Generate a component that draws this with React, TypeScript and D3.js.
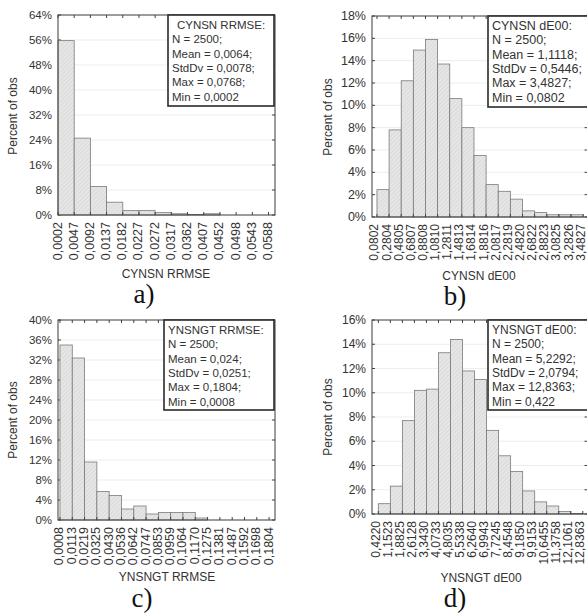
import React from "react";
import * as d3 from "d3";

const A_LABELS = ["0,0002","0,0047","0,0092","0,0137","0,0182","0,0227","0,0272","0,0317","0,0362","0,0407","0,0452","0,0498","0,0543","0,0588"];
const A_VALUES = [55.8, 24.6, 9.1, 4.1, 1.4, 1.4, 0.75, 0.4, 0.2, 0.4, 0, 0, 0];
const A_LEGEND = ["CYNSN RRMSE:", "N = 2500;", "Mean = 0,0064;", "StdDv = 0,0078;", "Max = 0,0768;", "Min = 0,0002"];

const B_LABELS = ["0,0802","0,2804","0,4805","0,6807","0,8808","1,0810","1,2811","1,4813","1,6814","1,8816","2,0817","2,2819","2,4820","2,6822","2,8823","3,0825","3,2826","3,4827"];
const B_VALUES = [2.45, 7.8, 12.2, 14.95, 15.9, 13.7, 10.6, 8.0, 5.5, 2.9, 2.3, 1.6, 0.55, 0.4, 0.2, 0.2, 0.2];
const B_LEGEND = ["CYNSN dE00:", "N = 2500;", "Mean = 1,1118;", "StdDv = 0,5446;", "Max = 3,4827;", "Min = 0,0802"];

const C_LABELS = ["0,0008","0,0113","0,0219","0,0325","0,0430","0,0536","0,0642","0,0747","0,0853","0,0959","0,1064","0,1170","0,1275","0,1381","0,1487","0,1592","0,1698","0,1804"];
const C_VALUES = [35.0, 32.4, 11.6, 5.7, 4.9, 2.2, 2.8, 1.2, 1.5, 1.5, 1.5, 0.4, 0, 0, 0, 0, 0];
const C_LEGEND = ["YNSNGT RRMSE:", "N = 2500;", "Mean = 0,024;", "StdDv = 0,0251;", "Max = 0,1804;", "Min = 0,0008"];

const D_LABELS = ["0,4220","1,1523","1,8825","2,6128","3,3430","4,0733","4,8035","5,5338","6,2640","6,9943","7,7245","8,4548","9,1850","9,9153","10,6455","11,3758","12,1061","12,8363"];
const D_VALUES = [0.85, 2.3, 7.7, 10.2, 10.3, 13.3, 14.4, 11.8, 11.1, 6.9, 4.8, 3.5, 1.9, 1.0, 0.66, 0.2, 0.05];
const D_LEGEND = ["YNSNGT dE00:", "N = 2500;", "Mean = 5,2292;", "StdDv = 2,0794;", "Max = 12,8363;", "Min = 0,422"];

const FONT = "'Liberation Sans', Arial, sans-serif";
const TXT = "#333";

type PanelProps = {
  id: string;
  left: number; right: number; top: number; bottom: number;
  domain: [number, number];
  yMax: number; yStep: number;
  values: number[]; labels: string[]; legend: string[];
  legendBox: [number, number, number, number];
  centerTitle?: boolean;
  xTitle: string; xTitlePos: [number, number];
  yTitlePos: [number, number];
  caption: string; captionPos: [number, number];
  fs: number; xfs: number; lblOff: number;
};

function Panel(p: PanelProps) {
  const x = d3.scaleLinear().domain(p.domain).range([p.left, p.right]);
  const y = d3.scaleLinear().domain([0, p.yMax]).range([p.bottom, p.top]);
  const yTicks = d3.range(0, p.yMax + 0.001, p.yStep);
  const [bx, by, bw, bh] = p.legendBox;
  return (
    <g>
      {yTicks.map((t) => (
        <g key={"g" + t}>
          {t > 0 && t < p.yMax && (
            <line x1={p.left} x2={p.right} y1={y(t)} y2={y(t)} stroke="#ededed" strokeWidth={1} />
          )}
          <line x1={p.left} x2={p.left + 3} y1={y(t)} y2={y(t)} stroke="#444" />
          <line x1={p.right - 3} x2={p.right} y1={y(t)} y2={y(t)} stroke="#444" />
          <text x={p.left - 6} y={y(t) + 4} textAnchor="end" fontSize={p.fs} fontFamily={FONT} fill={TXT}>
            {t + "%"}
          </text>
        </g>
      ))}
      {p.values.map((v, i) =>
        v > 0 ? (
          <rect key={"b" + i} x={x(i)} y={y(v)} width={x(i + 1) - x(i)} height={y(0) - y(v)}
            fill={`url(#hatch-${p.id})`} stroke="#7a7a7a" strokeWidth={0.8} />
        ) : null
      )}
      {p.labels.map((l, i) => (
        <g key={"l" + i}>
          <line x1={x(i)} x2={x(i)} y1={p.bottom} y2={p.bottom - 3} stroke="#444" />
          <line x1={x(i)} x2={x(i)} y1={p.top} y2={p.top + 3} stroke="#444" />
          <text transform={`translate(${x(i) + p.lblOff},${p.bottom + 7}) rotate(-90)`} textAnchor="end"
            fontSize={p.xfs} fontFamily={FONT} fill={TXT}>{l}</text>
        </g>
      ))}
      <rect x={p.left} y={p.top} width={p.right - p.left} height={p.bottom - p.top} fill="none" stroke="#3a3a3a" strokeWidth={1} />
      <rect x={bx} y={by} width={bw} height={bh} fill="#fff" stroke="#2a2a2a" strokeWidth={1.6} />
      {p.legend.map((s, i) => (
        <text key={"t" + i} x={i === 0 && p.centerTitle ? bx + bw / 2 : bx + 4}
          textAnchor={i === 0 && p.centerTitle ? "middle" : "start"}
          y={by + 14 + i * 14.3} fontSize={p.fs} fontFamily={FONT} fill={TXT}>{s}</text>
      ))}
      <text transform={`translate(${p.yTitlePos[0]},${p.yTitlePos[1]}) rotate(-90)`} textAnchor="middle"
        fontSize={12} fontFamily={FONT} fill={TXT}>Percent of obs</text>
      <text x={p.xTitlePos[0]} y={p.xTitlePos[1]} textAnchor="middle" fontSize={12} fontFamily={FONT} fill={TXT}>{p.xTitle}</text>
      <text x={p.captionPos[0]} y={p.captionPos[1]} textAnchor="middle" fontSize={27}
        fontFamily="'Liberation Serif', 'Times New Roman', serif" fill="#111">{p.caption}</text>
    </g>
  );
}

export default function App() {
  const ids = ["a", "b", "c", "d"];
  return (
    <svg width={587} height={614} style={{ position: "absolute", left: 0, top: 0, background: "#fff" }}>
      <defs>
        {ids.map((id) => (
          <pattern key={id} id={`hatch-${id}`} patternUnits="userSpaceOnUse" width={3} height={3} patternTransform="rotate(45)">
            <rect width={3} height={3} fill="#e6e6e6" />
            <line x1={0} y1={0} x2={0} y2={3} stroke="#cecece" strokeWidth={1} />
          </pattern>
        ))}
      </defs>
      <rect width={587} height={614} fill="#fff" />
      <Panel id="a" left={58} right={275} top={15} bottom={215} domain={[0, 13.4]} yMax={64} yStep={8}
        values={A_VALUES} labels={A_LABELS} legend={A_LEGEND} legendBox={[168, 15, 106, 91]} centerTitle
        xTitle="CYNSN RRMSE" xTitlePos={[166, 278]} yTitlePos={[17, 116]}
        caption="a)" captionPos={[144, 303]} fs={11.5} xfs={12.5} lblOff={3.5} />
      <Panel id="b" left={372} right={587.5} top={16} bottom={217} domain={[-0.41, 17.36]} yMax={18} yStep={2}
        values={B_VALUES} labels={B_LABELS} legend={B_LEGEND} legendBox={[488, 16, 110, 91]}
        xTitle="CYNSN dE00" xTitlePos={[479, 280]} yTitlePos={[332, 117]}
        caption="b)" captionPos={[455, 305]} fs={12.5} xfs={12} lblOff={1.5} />
      <Panel id="c" left={58} right={275} top={320} bottom={520} domain={[-0.16, 17.48]} yMax={40} yStep={4}
        values={C_VALUES} labels={C_LABELS} legend={C_LEGEND} legendBox={[164, 320, 110, 90]}
        xTitle="YNSNGT RRMSE" xTitlePos={[167, 581]} yTitlePos={[17, 420]}
        caption="c)" captionPos={[142, 607]} fs={11.5} xfs={12.5} lblOff={3.5} />
      <Panel id="d" left={372} right={587.5} top={320} bottom={514} domain={[-0.525, 17.39]} yMax={16} yStep={2}
        values={D_VALUES} labels={D_LABELS} legend={D_LEGEND} legendBox={[488, 320, 110, 90]}
        xTitle="YNSNGT dE00" xTitlePos={[481, 582]} yTitlePos={[332, 417]}
        caption="d)" captionPos={[455, 607]} fs={12} xfs={12} lblOff={1.5} />
    </svg>
  );
}
